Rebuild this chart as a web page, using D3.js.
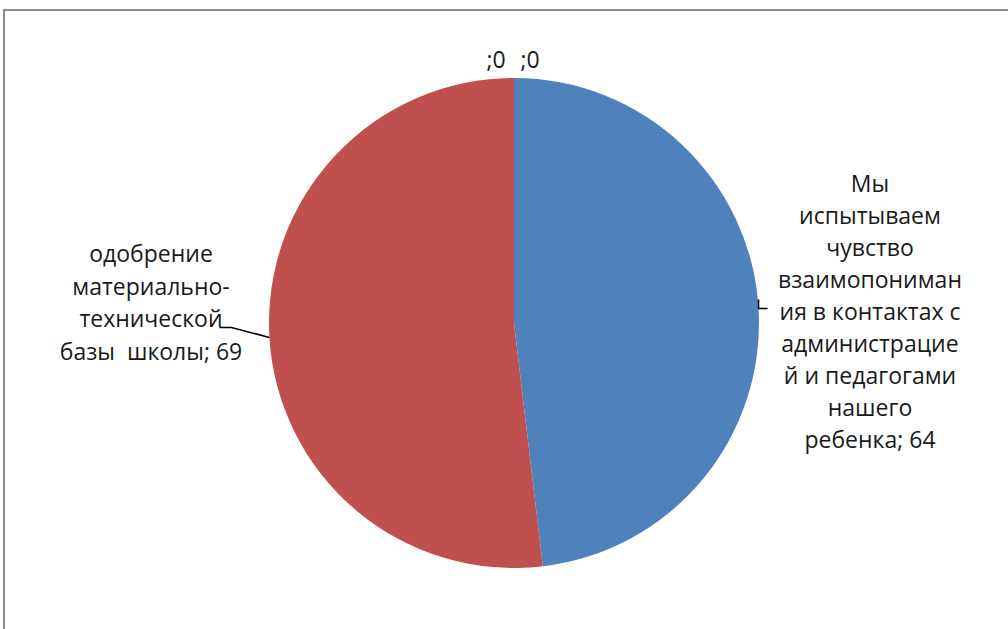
<!DOCTYPE html>
<html lang="ru">
<head>
<meta charset="UTF-8">
<title>Pie</title>
<style>
  body { margin: 0; background: #fff; }
  .lbl text { font-family: "Open Sans", sans-serif; font-size: 23px; fill: #1a1a1a; text-anchor: middle; white-space: pre; }
</style>
</head>
<body>
<svg id="chart" width="1008" height="629"></svg>
<script src="https://d3js.org/d3.v7.min.js"></script>
<script>
// data
var categories = [
  "Мы испытываем чувство взаимопонимания в контактах с администрацией и педагогами нашего ребенка",
  "одобрение материально-технической базы школы",
  "",
  ""
];
var values = [64, 69, 0, 0];
var colors = ["#4F81BD", "#C0504D", "#9BBB59", "#8064A2"];
// label lines as wrapped in the original
var labelLines = [
  ["Мы", "испытываем", "чувство", "взаимопониман", "ия в контактах с", "администрацие", "й и педагогами", "нашего", "ребенка; 64"],
  ["одобрение", "материально-", "технической", "базы  школы; 69"],
  [";0"],
  [";0"]
];

var W = 1008, H = 629;
var cx = 514, cy = 323, r = 245;

var svg = d3.select("#chart");

// outer chart frame (runs off the right / bottom edge)
svg.append("rect")
    .attr("x", 4).attr("y", 10)
    .attr("width", W + 20).attr("height", H + 20)
    .attr("fill", "none")
    .attr("stroke", "#8c8c8c")
    .attr("stroke-width", 2);

var pie = d3.pie().sort(null).value(function(d) { return d; });
var arcs = pie(values);
var arc = d3.arc().innerRadius(0).outerRadius(r);

var g = svg.append("g").attr("transform", "translate(" + cx + "," + cy + ")");

g.selectAll("path")
    .data(arcs)
    .enter().append("path")
    .attr("d", arc)
    .attr("fill", function(d, i) { return colors[i]; });

// label placement: anchor point + line height (Excel-ish manual layout)
var lineH = [32, 32.5, 0, 0];
var labelPos = [
  { dx: 356, dy: -131 },   // right block, first baseline
  { dx: -363, dy: -61 },
  { dx: -18, dy: -255 },
  { dx: 16, dy: -255 }
];

var lbl = svg.append("g").attr("class", "lbl");
arcs.forEach(function(a, i) {
  var t = lbl.append("text")
      .attr("x", cx + labelPos[i].dx)
      .attr("y", cy + labelPos[i].dy);
  labelLines[i].forEach(function(s, j) {
    t.append("tspan")
        .attr("x", cx + labelPos[i].dx)
        .attr("y", cy + labelPos[i].dy + j * lineH[i])
        .text(s);
  });
});

// leader lines
function edge(a) {
  var m = (a.startAngle + a.endAngle) / 2;
  return [cx + r * Math.sin(m), cy - r * Math.cos(m)];
}
var e0 = edge(arcs[0]), e1 = edge(arcs[1]);
svg.append("path")
    .attr("d", "M" + e0[0] + "," + (e0[1] - 9) + "V" + (e0[1] + 0) + "H" + (e0[0] + 9))
    .attr("fill", "none").attr("stroke", "#000").attr("stroke-width", 1.5);
svg.append("path")
    .attr("d", "M" + e1[0] + "," + e1[1] + "L" + (e1[0] - 38) + "," + (e1[1] - 10) + "H" + (e1[0] - 50))
    .attr("fill", "none").attr("stroke", "#000").attr("stroke-width", 1.5);
</script>
</body>
</html>
